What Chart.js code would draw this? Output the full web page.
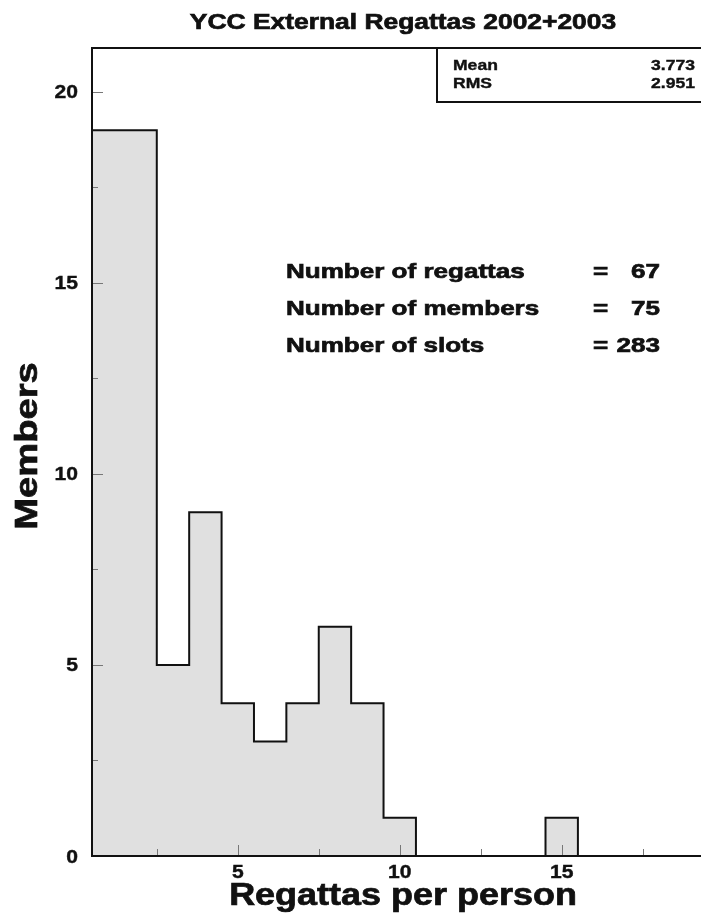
<!DOCTYPE html>
<html>
<head>
<meta charset="utf-8">
<title>YCC External Regattas 2002+2003</title>
<script src="https://cdn.jsdelivr.net/npm/chart.js@4.4.1/dist/chart.umd.min.js"></script>
<style>
  html, body { margin: 0; padding: 0; background: #fff; }
  canvas { display: block; }
</style>
</head>
<body>
<canvas id="histo" width="701" height="919"></canvas>
<script>
// ---- datos del histograma ----
const regattas = [1, 2, 3, 4, 5, 6, 7, 8, 9, 10, 11, 12, 13, 14, 15, 16, 17, 18, 19];   // centro de cada bin
const members  = [19, 19, 5, 9, 4, 3, 4, 6, 4, 1, 0, 0, 0, 0, 1, 0, 0, 0, 0];

const xTicks      = [5, 10, 15];
const xMinorTicks = [2.5, 7.5, 12.5, 17.5];
const yTicks      = [0, 5, 10, 15, 20];
const yMinorTicks = [2.5, 7.5, 12.5, 17.5];

const statLabels = ['Mean', 'RMS'];
const statValues = ['3.773', '2.951'];

const infoLabels = ['Number of regattas', 'Number of members', 'Number of slots'];
const infoValues = ['67', '75', '283'];

const titleText  = 'YCC External Regattas 2002+2003';
const xTitleText = 'Regattas per person';
const yTitleText = 'Members';

// escalones: punto en el borde izquierdo de cada bin + cierre a la derecha
const stepPoints = regattas.map((c, i) => ({ x: c - 0.5, y: members[i] }));
stepPoints.push({ x: regattas[regattas.length - 1] + 0.5, y: 0 });

const FONT = '"Liberation Sans", Arial, Helvetica, sans-serif';
const INK  = '#111';

// texto ensanchado horizontalmente (el original está estirado)
function wideText(ctx, text, x, y, size, align, sx, rot) {
  ctx.save();
  ctx.translate(x, y);
  if (rot) ctx.rotate(rot);
  ctx.scale(sx, 1);
  ctx.font = `bold ${size}px ${FONT}`;
  ctx.textAlign = align;
  ctx.textBaseline = 'alphabetic';
  ctx.fillStyle = INK;
  ctx.strokeStyle = INK;
  ctx.lineWidth = size > 20 ? 0.7 : 0.4;
  ctx.fillText(text, 0, 0);
  ctx.strokeText(text, 0, 0);
  ctx.restore();
}

const rootStyle = {
  id: 'rootStyle',
  afterDatasetsDraw(chart) {
    const { ctx, chartArea: a, scales: { x, y } } = chart;

    // ticks hacia dentro
    ctx.save();
    ctx.strokeStyle = '#777';
    ctx.lineWidth = 1;
    ctx.beginPath();
    yTicks.forEach(v => { const p = Math.round(y.getPixelForValue(v)) + 0.5; ctx.moveTo(a.left, p); ctx.lineTo(a.left + 11, p); });
    yMinorTicks.forEach(v => { const p = Math.round(y.getPixelForValue(v)) + 0.5; ctx.moveTo(a.left, p); ctx.lineTo(a.left + 6, p); });
    xTicks.forEach(v => { const p = Math.round(x.getPixelForValue(v)) + 0.5; ctx.moveTo(p, a.bottom); ctx.lineTo(p, a.bottom - 11); });
    xMinorTicks.forEach(v => { const p = Math.round(x.getPixelForValue(v)) + 0.5; ctx.moveTo(p, a.bottom); ctx.lineTo(p, a.bottom - 7); });
    ctx.stroke();

    // marco
    ctx.strokeStyle = INK;
    ctx.lineWidth = 2;
    ctx.beginPath();
    ctx.moveTo(a.right + 2, a.top);
    ctx.lineTo(a.left, a.top);
    ctx.lineTo(a.left, a.bottom);
    ctx.lineTo(a.right + 2, a.bottom);
    ctx.stroke();

    // caja de estadísticas
    ctx.fillStyle = '#fff';
    ctx.fillRect(437, a.top, a.right - 437 + 4, 54);
    ctx.beginPath();
    ctx.rect(437, a.top, a.right - 437 + 4, 54);
    ctx.stroke();
    ctx.restore();

    statLabels.forEach((s, i) => {
      const by = 70 + i * 18;
      wideText(ctx, s, 453, by, 15, 'left', 1.17);
      wideText(ctx, statValues[i], 695, by, 15, 'right', 1.17);
    });

    // etiquetas de los ejes
    yTicks.forEach(v => wideText(ctx, String(v), 78, y.getPixelForValue(v) + 6.5, 18, 'right', 1.17));
    xTicks.forEach(v => wideText(ctx, String(v), x.getPixelForValue(v), 878, 18, 'center', 1.17));

    // textos
    wideText(ctx, titleText, 403, 29, 22, 'center', 1.2);
    wideText(ctx, xTitleText, 403, 905, 31, 'center', 1.16);
    wideText(ctx, yTitleText, 37, 446, 31, 'center', 1.23, -Math.PI / 2);

    infoLabels.forEach((s, i) => {
      const by = 278 + i * 37;
      wideText(ctx, s, 286, by, 21, 'left', 1.24);
      wideText(ctx, '=', 593, by, 21, 'left', 1.24);
      wideText(ctx, infoValues[i], 660, by, 21, 'right', 1.24);
    });
  },
};

new Chart(document.getElementById('histo'), {
  type: 'line',
  data: {
    datasets: [{
      data: stepPoints,
      stepped: 'before',
      fill: 'origin',
      backgroundColor: '#e0e0e0',
      borderColor: INK,
      borderWidth: 2,
      pointRadius: 0,
    }],
  },
  options: {
    responsive: false,
    animation: false,
    devicePixelRatio: 1,
    layout: { padding: { top: 48, right: 0, bottom: 0, left: 0 } },
    plugins: {
      legend: { display: false },
      title: { display: false },
      tooltip: { enabled: false },
    },
    scales: {
      x: {
        type: 'linear',
        min: 0.5,
        max: 19.3,
        grid: { display: false },
        border: { display: true, color: INK, width: 2 },
        ticks: { display: false },
        afterBuildTicks: s => { s.ticks = xTicks.map(v => ({ value: v })); },
        afterFit: s => { s.height = 63; },
      },
      y: {
        min: 0,
        max: 21.15,
        grid: { display: false },
        border: { display: true, color: INK, width: 2 },
        ticks: { display: false },
        afterBuildTicks: s => { s.ticks = yTicks.map(v => ({ value: v })); },
        afterFit: s => { s.width = 92; },
      },
    },
  },
  plugins: [rootStyle],
});
</script>
</body>
</html>
